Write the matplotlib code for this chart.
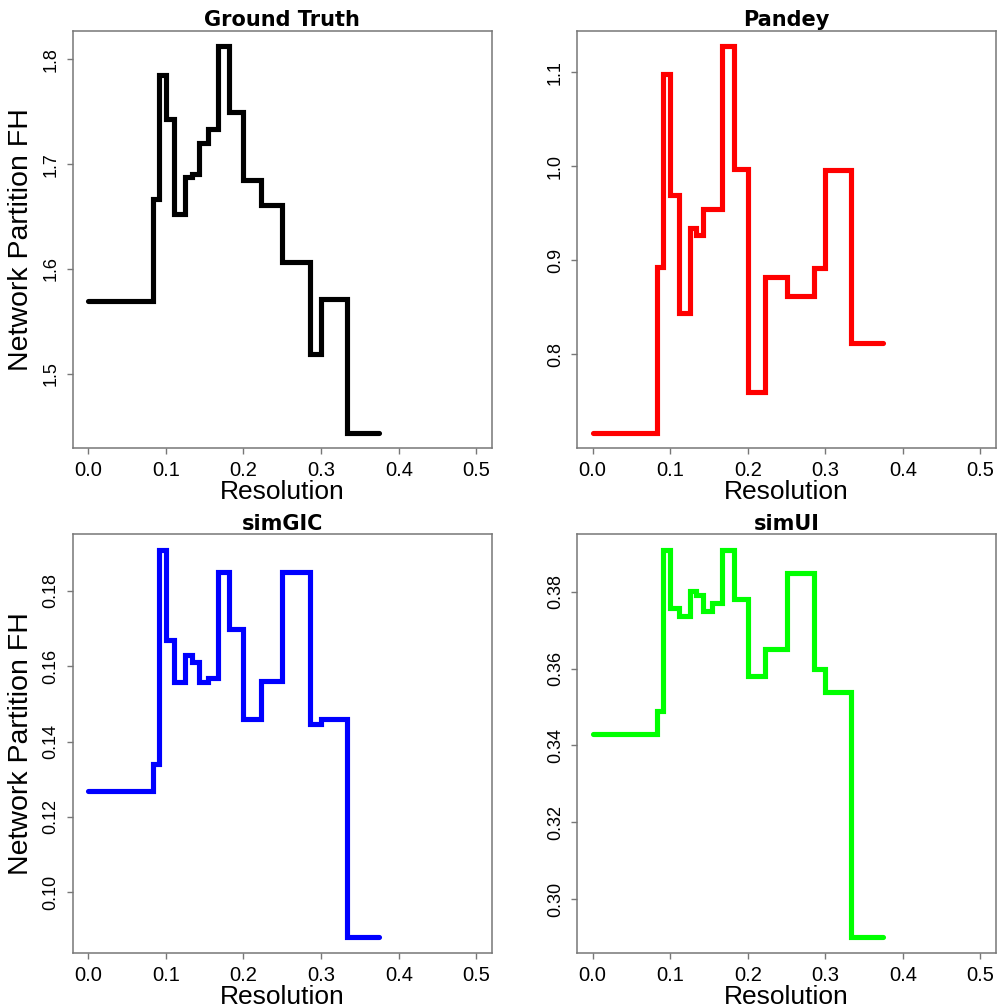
import matplotlib
matplotlib.use("Agg")
import matplotlib.pyplot as plt
import numpy as np

# Resolution breakpoints where the network partition changes
resolution = [0.0, 0.0833, 0.0909, 0.1, 0.1111, 0.125, 0.1333, 0.1429, 0.1538,
              0.1667, 0.1818, 0.2, 0.2222, 0.25, 0.2857, 0.3, 0.3333, 0.375]

# Partition FH value on each resolution interval
ground_truth = [1.5696, 1.667, 1.785, 1.743, 1.652, 1.688, 1.691, 1.720, 1.7335,
                1.8127, 1.750, 1.6845, 1.6614, 1.607, 1.519, 1.5712, 1.444]
pandey = [0.717, 0.8935, 1.098, 0.9694, 0.844, 0.934, 0.927, 0.9546, 0.9546,
          1.128, 0.9976, 0.7604, 0.8819, 0.8617, 0.8917, 0.9959, 0.8123]
simgic = [0.127, 0.134, 0.191, 0.1671, 0.1559, 0.1631, 0.1612, 0.1559, 0.1569,
          0.185, 0.170, 0.146, 0.156, 0.185, 0.1448, 0.146, 0.088]
simui = [0.343, 0.349, 0.391, 0.3759, 0.3738, 0.3802, 0.3791, 0.375, 0.3771,
         0.391, 0.378, 0.358, 0.3652, 0.385, 0.360, 0.354, 0.290]

titles = ["Ground Truth", "Pandey", "simGIC", "simUI"]
series = [ground_truth, pandey, simgic, simui]
colors = ["#000000", "#ff0000", "#0000ff", "#00ff00"]
yticks = [[1.5, 1.6, 1.7, 1.8],
          [0.8, 0.9, 1.0, 1.1],
          [0.10, 0.12, 0.14, 0.16, 0.18],
          [0.30, 0.32, 0.34, 0.36, 0.38]]
ytick_fmt = ["{:.1f}", "{:.1f}", "{:.2f}", "{:.2f}"]
xticks = [0.0, 0.1, 0.2, 0.3, 0.4, 0.5]

W, H = 999, 1006
fig = plt.figure(figsize=(W / 100, H / 100), dpi=100)

# panel boxes in pixels: left, top, right, bottom
boxes = [(72.5, 30.5, 492, 448), (577, 30.5, 996, 448),
         (72.5, 534, 492, 953), (577, 534, 996, 953)]

sans = ["Liberation Sans", "DejaVu Sans"]
frame_col = "#777777"

for i, (title, vals, col, yt, fmt, box) in enumerate(
        zip(titles, series, colors, yticks, ytick_fmt, boxes)):
    l, t, r, b = box
    ax = fig.add_axes([l / W, 1 - b / H, (r - l) / W, (b - t) / H])
    yv = list(vals) + [vals[-1]]
    ax.plot(resolution, yv, drawstyle="steps-post", color=col, lw=3.7,
            solid_capstyle="round", solid_joinstyle="miter")
    ax.set_xlim(-0.02, 0.52)
    lo, hi = min(vals), max(vals)
    pad = 0.04 * (hi - lo)
    ax.set_ylim(lo - pad, hi + pad)

    ax.set_xticks(xticks)
    ax.set_xticklabels(["{:.1f}".format(v) for v in xticks],
                       fontsize=14.5, family=sans)
    ax.set_yticks(yt)
    ax.set_yticklabels([fmt.format(v) for v in yt], fontsize=13,
                       family=sans, rotation=90, va="center")
    ax.tick_params(direction="out", length=4.5, width=1.0, color=frame_col,
                   pad=5)
    for s in ax.spines.values():
        s.set_color(frame_col)
        s.set_linewidth(1.1)

    ax.set_xlabel("Resolution", fontsize=19, family=sans, labelpad=0)
    if i % 2 == 0:
        ax.set_ylabel("Network Partition FH", fontsize=20.5, family=sans,
                      labelpad=6)
    ax.set_title(title, fontsize=15, fontweight="bold", family="DejaVu Sans",
                 pad=3)

fig.savefig("out.png", dpi=100, facecolor="white")
